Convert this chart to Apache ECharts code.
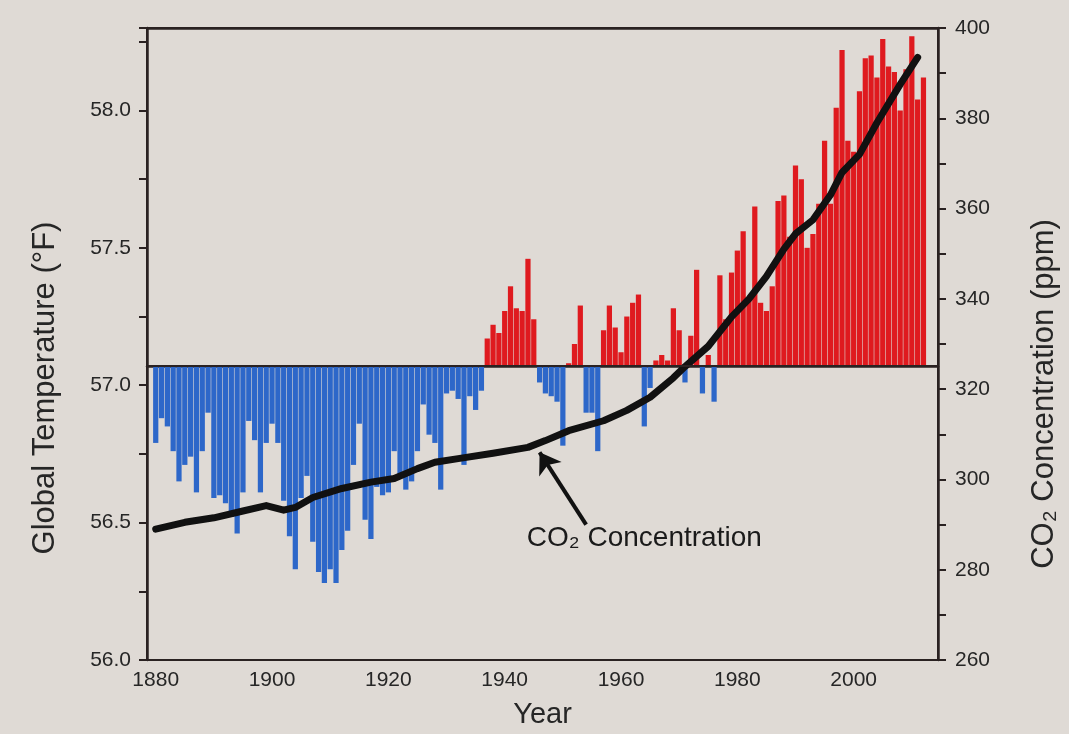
<!DOCTYPE html>
<html><head><meta charset="utf-8">
<script src="https://cdn.jsdelivr.net/npm/echarts@6/dist/echarts.min.js"></script>
<style>html,body{margin:0;padding:0;background:#dfdad5}#c{width:1069px;height:734px}</style>
</head><body><div id="c"></div>
<script>
// ---- data ----
const FIRST_CAT = 1879, LAST_CAT = 2014;   // x-axis category span
const TEMP_FIRST_YEAR = 1880;
// annual global temperature, difference from the baseline line (°F)
const tempAnomalyF = [
 -0.28,-0.19,-0.22,-0.31,-0.42,-0.36,-0.33,-0.46,-0.31,-0.17, // 1880-1889
 -0.48,-0.47,-0.50,-0.55,-0.61,-0.46,-0.20,-0.27,-0.46,-0.28, // 1890-1899
 -0.21,-0.28,-0.49,-0.62,-0.74,-0.48,-0.40,-0.64,-0.75,-0.79, // 1900-1909
 -0.74,-0.79,-0.67,-0.60,-0.36,-0.21,-0.56,-0.63,-0.44,-0.47, // 1910-1919
 -0.46,-0.31,-0.40,-0.45,-0.42,-0.31,-0.14,-0.25,-0.28,-0.45, // 1920-1929
 -0.10,-0.09,-0.12,-0.36,-0.11,-0.16,-0.09, 0.10, 0.15, 0.12, // 1930-1939
  0.20, 0.29, 0.21, 0.20, 0.39, 0.17,-0.06,-0.10,-0.11,-0.13, // 1940-1949
 -0.29, 0.01, 0.08, 0.22,-0.17,-0.17,-0.31, 0.13, 0.22, 0.14, // 1950-1959
  0.05, 0.18, 0.23, 0.26,-0.22,-0.08, 0.02, 0.04, 0.02, 0.21, // 1960-1969
  0.13,-0.06, 0.11, 0.35,-0.10, 0.04,-0.13, 0.33, 0.17, 0.34, // 1970-1979
  0.42, 0.49, 0.24, 0.58, 0.23, 0.20, 0.29, 0.60, 0.62, 0.47, // 1980-1989
  0.73, 0.68, 0.43, 0.48, 0.59, 0.82, 0.59, 0.94, 1.15, 0.82, // 1990-1999
  0.78, 1.00, 1.12, 1.13, 1.05, 1.19, 1.09, 1.07, 0.93, 1.08, // 2000-2009
  1.20, 0.97, 1.05                                            // 2010-2012
];
const BASELINE_F = 57.07;          // level of the zero line on the °F axis
const TEMP_AXIS_MIN = 56.0, TEMP_AXIS_MAX = 58.3;
const CO2_AXIS_MIN = 260, CO2_AXIS_MAX = 400;
// CO2 concentration curve (ppm)
const co2Years = [1880,1885,1890,1895,1899,1902,1904,1907,1912,1917,1921,1925,1928,1932,1938,1944,1947,1951,1957,1961,1965,1969,1971,1975,1979,1982,1985,1988,1990,1993,1996,1998,2001,2004,2008,2011];
const co2Ppm   = [289.0,290.5,291.5,293.0,294.2,293.2,293.8,296.0,298.0,299.4,300.2,302.4,303.8,304.6,305.8,307.1,308.6,310.8,313.0,315.3,318.2,322.5,325.0,329.5,336.0,340.0,345.0,351.0,354.4,357.5,363.0,368.0,372.0,379.0,387.5,393.5];
const labelYears = [1880,1900,1920,1940,1960,1980,2000];
// annotation
const annotText = 'CO\u2082 Concentration';
const annotAt = ['1964', 287];
const arrowFrom = ['1954', 290], arrowTo = ['1946', 306];

// ---- build ----
const cats = [];
for (let y = FIRST_CAT; y <= LAST_CAT; y++) cats.push(String(y));
const barData = cats.map(c => {
  const i = +c - TEMP_FIRST_YEAR;
  return (i >= 0 && i < tempAnomalyF.length) ? tempAnomalyF[i] : null;
});
const co2Data = co2Years.map((y, i) => [String(y), co2Ppm[i]]);

const INK = '#2a2222', TXT = '#262626';
const isLabelYear = (idx, v) => labelYears.indexOf(+v) >= 0;

const chart = echarts.init(document.getElementById('c'), null, {renderer: 'canvas'});
chart.setOption({
  backgroundColor: '#dfdad5',
  animation: false,
  textStyle: {fontFamily: 'Liberation Sans, Arial, sans-serif', color: TXT},
  grid: {left: 147, right: 131, top: 28, bottom: 70, show: true, borderColor: INK, borderWidth: 2, backgroundColor: 'transparent'},
  xAxis: [{
    type: 'category', data: cats, position: 'bottom', boundaryGap: true,
    axisLine: {lineStyle: {color: INK, width: 2.5}},
    axisTick: {alignWithLabel: true, interval: isLabelYear, length: 7, lineStyle: {color: INK, width: 2}},
    axisLabel: {interval: isLabelYear, fontSize: 21, color: TXT, margin: 10},
    name: 'Year', nameLocation: 'middle', nameGap: 40,
    nameTextStyle: {fontSize: 29, color: TXT}
  }, {
    type: 'category', data: cats, position: 'top', boundaryGap: true,
    axisLine: {lineStyle: {color: INK, width: 2.5}},
    axisTick: {alignWithLabel: true, interval: isLabelYear, length: 6, lineStyle: {color: INK, width: 2}},
    axisLabel: {show: false}
  }],
  yAxis: [{
    type: 'value', position: 'left', min: TEMP_AXIS_MIN, max: TEMP_AXIS_MAX, interval: 0.25,
    axisLine: {show: true, lineStyle: {color: INK, width: 2.5}},
    axisTick: {show: true, length: 8, lineStyle: {color: INK, width: 2}},
    splitLine: {show: false},
    axisLabel: {fontSize: 21, color: TXT, margin: 16,
      formatter: v => (Math.abs(v * 2 - Math.round(v * 2)) < 1e-6) ? v.toFixed(1) : ''},
    name: 'Global Temperature (°F)', nameLocation: 'middle', nameRotate: 90, nameGap: 86,
    nameTextStyle: {fontSize: 31, color: TXT, padding: [0, 88, 0, 0]}
  }, {
    type: 'value', position: 'right', min: CO2_AXIS_MIN, max: CO2_AXIS_MAX, interval: 10,
    axisLine: {show: true, lineStyle: {color: INK, width: 2.5}},
    axisTick: {show: true, length: 8, lineStyle: {color: INK, width: 2}},
    splitLine: {show: false},
    axisLabel: {fontSize: 21, color: TXT, margin: 17,
      formatter: v => (v % 20 === 0) ? String(v) : ''},
    name: 'CO\u2082 Concentration (ppm)', nameLocation: 'middle', nameRotate: 90, nameGap: 91,
    nameTextStyle: {fontSize: 31, color: TXT, padding: [0, 100, 0, 0]}
  }, {
    type: 'value', show: false,
    min: +(TEMP_AXIS_MIN - BASELINE_F).toFixed(3), max: +(TEMP_AXIS_MAX - BASELINE_F).toFixed(3)
  }],
  series: [{
    type: 'bar', xAxisIndex: 0, yAxisIndex: 2, data: barData,
    barCategoryGap: '10%',
    itemStyle: {color: p => p.value >= 0 ? '#df1a1f' : '#2d67c9'},
    markLine: {
      silent: true, symbol: 'none', label: {show: false},
      lineStyle: {color: INK, width: 2, type: 'solid'},
      data: [{yAxis: 0}]
    }
  }, {
    type: 'line', xAxisIndex: 0, yAxisIndex: 1, data: co2Data,
    symbol: 'none', smooth: false,
    lineStyle: {color: '#111', width: 7, cap: 'round', join: 'round'},
    markLine: {
      silent: true, symbol: ['none', 'arrow'], symbolSize: 20,
      label: {show: false},
      lineStyle: {color: '#111', width: 4, type: 'solid'},
      data: [[{coord: arrowFrom}, {coord: arrowTo}]]
    },
    markPoint: {
      silent: true, symbol: 'circle', symbolSize: 1,
      itemStyle: {color: 'rgba(0,0,0,0)'},
      label: {show: true, position: 'inside', formatter: annotText, fontSize: 28, color: '#1a1a1a'},
      data: [{coord: annotAt}]
    }
  }]
});
</script></body></html>
